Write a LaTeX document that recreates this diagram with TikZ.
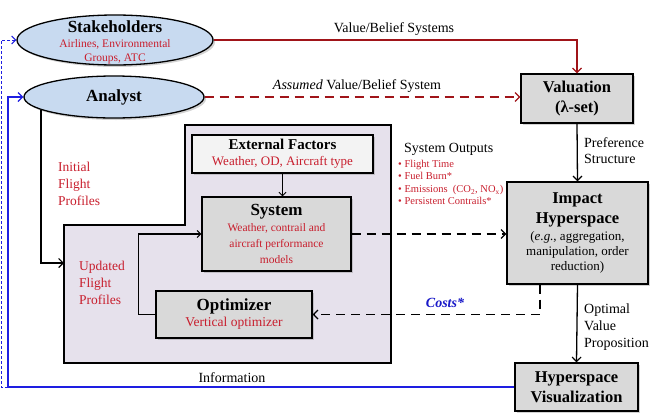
\documentclass[tikz,border=0pt]{standalone}
\usepackage{fontspec}
\setmainfont{Liberation Serif}
\usetikzlibrary{arrows.meta,shadows,calc,shapes.geometric}
\definecolor{txtred}{RGB}{200,30,45}
\definecolor{linered}{RGB}{160,20,25}
\definecolor{lineblue}{RGB}{30,30,225}
\definecolor{costblue}{RGB}{25,25,200}
\definecolor{boxgray}{RGB}{217,217,217}
\definecolor{extgray}{RGB}{243,243,243}
\definecolor{ellblue}{RGB}{200,218,240}
\definecolor{lav}{RGB}{230,225,236}
\begin{document}
\begin{tikzpicture}[x=1pt,y=-1pt,
  shad/.style={drop shadow={opacity=0.35,shadow xshift=2pt,shadow yshift=-2pt}},
  box/.style={draw,line width=1.3pt,fill=boxgray,shad,inner sep=0pt,align=center},
  ell/.style={ellipse,draw,line width=1.3pt,fill=ellblue,shad,inner sep=0pt},
  lbl/.style={font=\fontsize{14}{17}\selectfont,inner sep=0pt},
  redlbl/.style={inner sep=0pt,anchor=north west,align=left,text=txtred,font=\fontsize{13.5}{17}\selectfont},
  arr/.style={-{Straight Barb[length=4.5pt,width=9pt,line width=1.2pt]},line width=1.3pt},
  dsh/.style={dash pattern=on 9pt off 6pt}
]
\useasboundingbox (0,0) rectangle (656,413);

% lavender region
\path[draw,line width=1.5pt,fill=lav] (185,125) coordinate (p1) -- (391,125) -- (391,363) -- (64,363) -- (64,225) -- (185,225) -- cycle;
\coordinate (updin) at (64,263);

% ellipses
\node[ell,minimum width=196pt,minimum height=50pt] (stake) at (115,40) {};
\node[align=center,inner sep=0pt,font=\fontsize{11.5}{14}\selectfont] (staketxt) at (115,42)
  {\fontsize{17}{17}\selectfont\bfseries Stakeholders\\[1pt]
   \color{txtred}Airlines, Environmental\\
   \color{txtred}Groups, ATC};
\node[ell,minimum width=180pt,minimum height=42pt] (analyst) at (114,97) {};
\node[inner sep=0pt,font=\fontsize{17}{18}\selectfont\bfseries] (analysttxt) at (114,97) {Analyst};

% boxes
\node[box,minimum width=112pt,minimum height=49pt,font=\fontsize{16.5}{20}\selectfont\bfseries] (val) at (577,98.5)
  {Valuation\\(λ-set)};
\node[box,minimum width=141pt,minimum height=102pt,font=\fontsize{13}{15}\selectfont] (imp) at (577.5,233)
  {\fontsize{16.5}{18}\selectfont\bfseries Impact\\[5pt]\fontsize{16.5}{18}\selectfont\bfseries Hyperspace\\[2pt]
   (\textit{e.g.}, aggregation,\\manipulation, order\\reduction)};
\node[box,minimum width=123pt,minimum height=48pt,font=\fontsize{16.5}{20}\selectfont\bfseries] (viz) at (576.5,387)
  {Hyperspace\\Visualization};
\node[box,fill=extgray,minimum width=181pt,minimum height=38pt,font=\fontsize{13}{16}\selectfont] (ext) at (282.5,154)
  {\fontsize{15}{16}\selectfont\bfseries External Factors\\\color{txtred}Weather, OD, Aircraft type};
\node[box,minimum width=149pt,minimum height=74pt,font=\fontsize{11.5}{16}\selectfont] (sys) at (276.5,234)
  {\fontsize{17}{18}\selectfont\bfseries System\\\color{txtred}Weather, contrail and\\\color{txtred}aircraft performance\\\color{txtred}models};
\node[box,minimum width=156pt,minimum height=47pt,font=\fontsize{13.5}{16}\selectfont] (opt) at (234,314.5)
  {\fontsize{17}{18}\selectfont\bfseries Optimizer\\\color{txtred}Vertical optimizer};

% connectors
\draw[arr,linered] (stake.east) -| (val.north);
\draw[arr,linered,dsh] (analyst.east) -- (analyst.east -| val.west);
\draw[arr] (val.south) -- (imp.north);
\draw[arr] (imp.south) -- (viz.north);
\draw[-{Straight Barb[length=3.5pt,width=7pt]},line width=0.9pt] (ext.south) -- (ext.south |- sys.north);
\draw[arr,dsh,line width=1.6pt] (sys.east) -- (sys.east -| imp.west);
\draw[arr,dsh] ([xshift=-37.5pt]imp.south) |- (opt.east);
\draw[-{Straight Barb[length=3.5pt,width=7pt]},line width=1.1pt] (opt.west) -- ++(-17,0) coordinate (lp) |- (sys.west);
\draw[arr,line width=1.2pt] (analyst.190) |- (updin);
\draw[arr,lineblue,line width=1.3pt] (viz.west) -- (8,387) coordinate (b1) |- (analyst.west);
\draw[-{Straight Barb[length=4pt,width=8pt]},lineblue,line width=1pt,dash pattern=on 3pt off 2pt] (b1) -- (1.2,387) coordinate (b2) |- (stake.west);

% labels
\node[lbl] (vbs) at (394,29) {Value/Belief Systems};
\node[lbl] (avbs) at (357,86) {\textit{Assumed} Value/Belief System};
\node[lbl,anchor=north west,align=left,font=\fontsize{14}{16}\selectfont] (pref) at (584,137.5) {Preference\\Structure};
\node[lbl,anchor=north west,align=left] (ovp) at (584,303.5) {Optimal\\Value\\Proposition};
\node[lbl,anchor=base west] (sysout) at (404,152) {System Outputs};
\node[inner sep=0pt,anchor=north west,align=left,text=txtred,font=\fontsize{10.5}{12.5}\selectfont] (bul) at (398,160)
  {•\ Flight Time\\•\ Fuel Burn*\\•\ Emissions\ \ (CO\textsubscript{2}, NO\textsubscript{x})\\•\ Persistent Contrails*};
\node[redlbl] (ifp) at (58,162) {Initial\\Flight\\Profiles};
\node[redlbl] (ufp) at (79,260.5) {Updated\\Flight\\Profiles};
\node[inner sep=0pt,text=costblue,font=\fontsize{14}{16}\selectfont\bfseries\itshape] (costs) at (445,303) {Costs*};
\node[lbl] (info) at (232,378) {Information};
\end{tikzpicture}
\end{document}
